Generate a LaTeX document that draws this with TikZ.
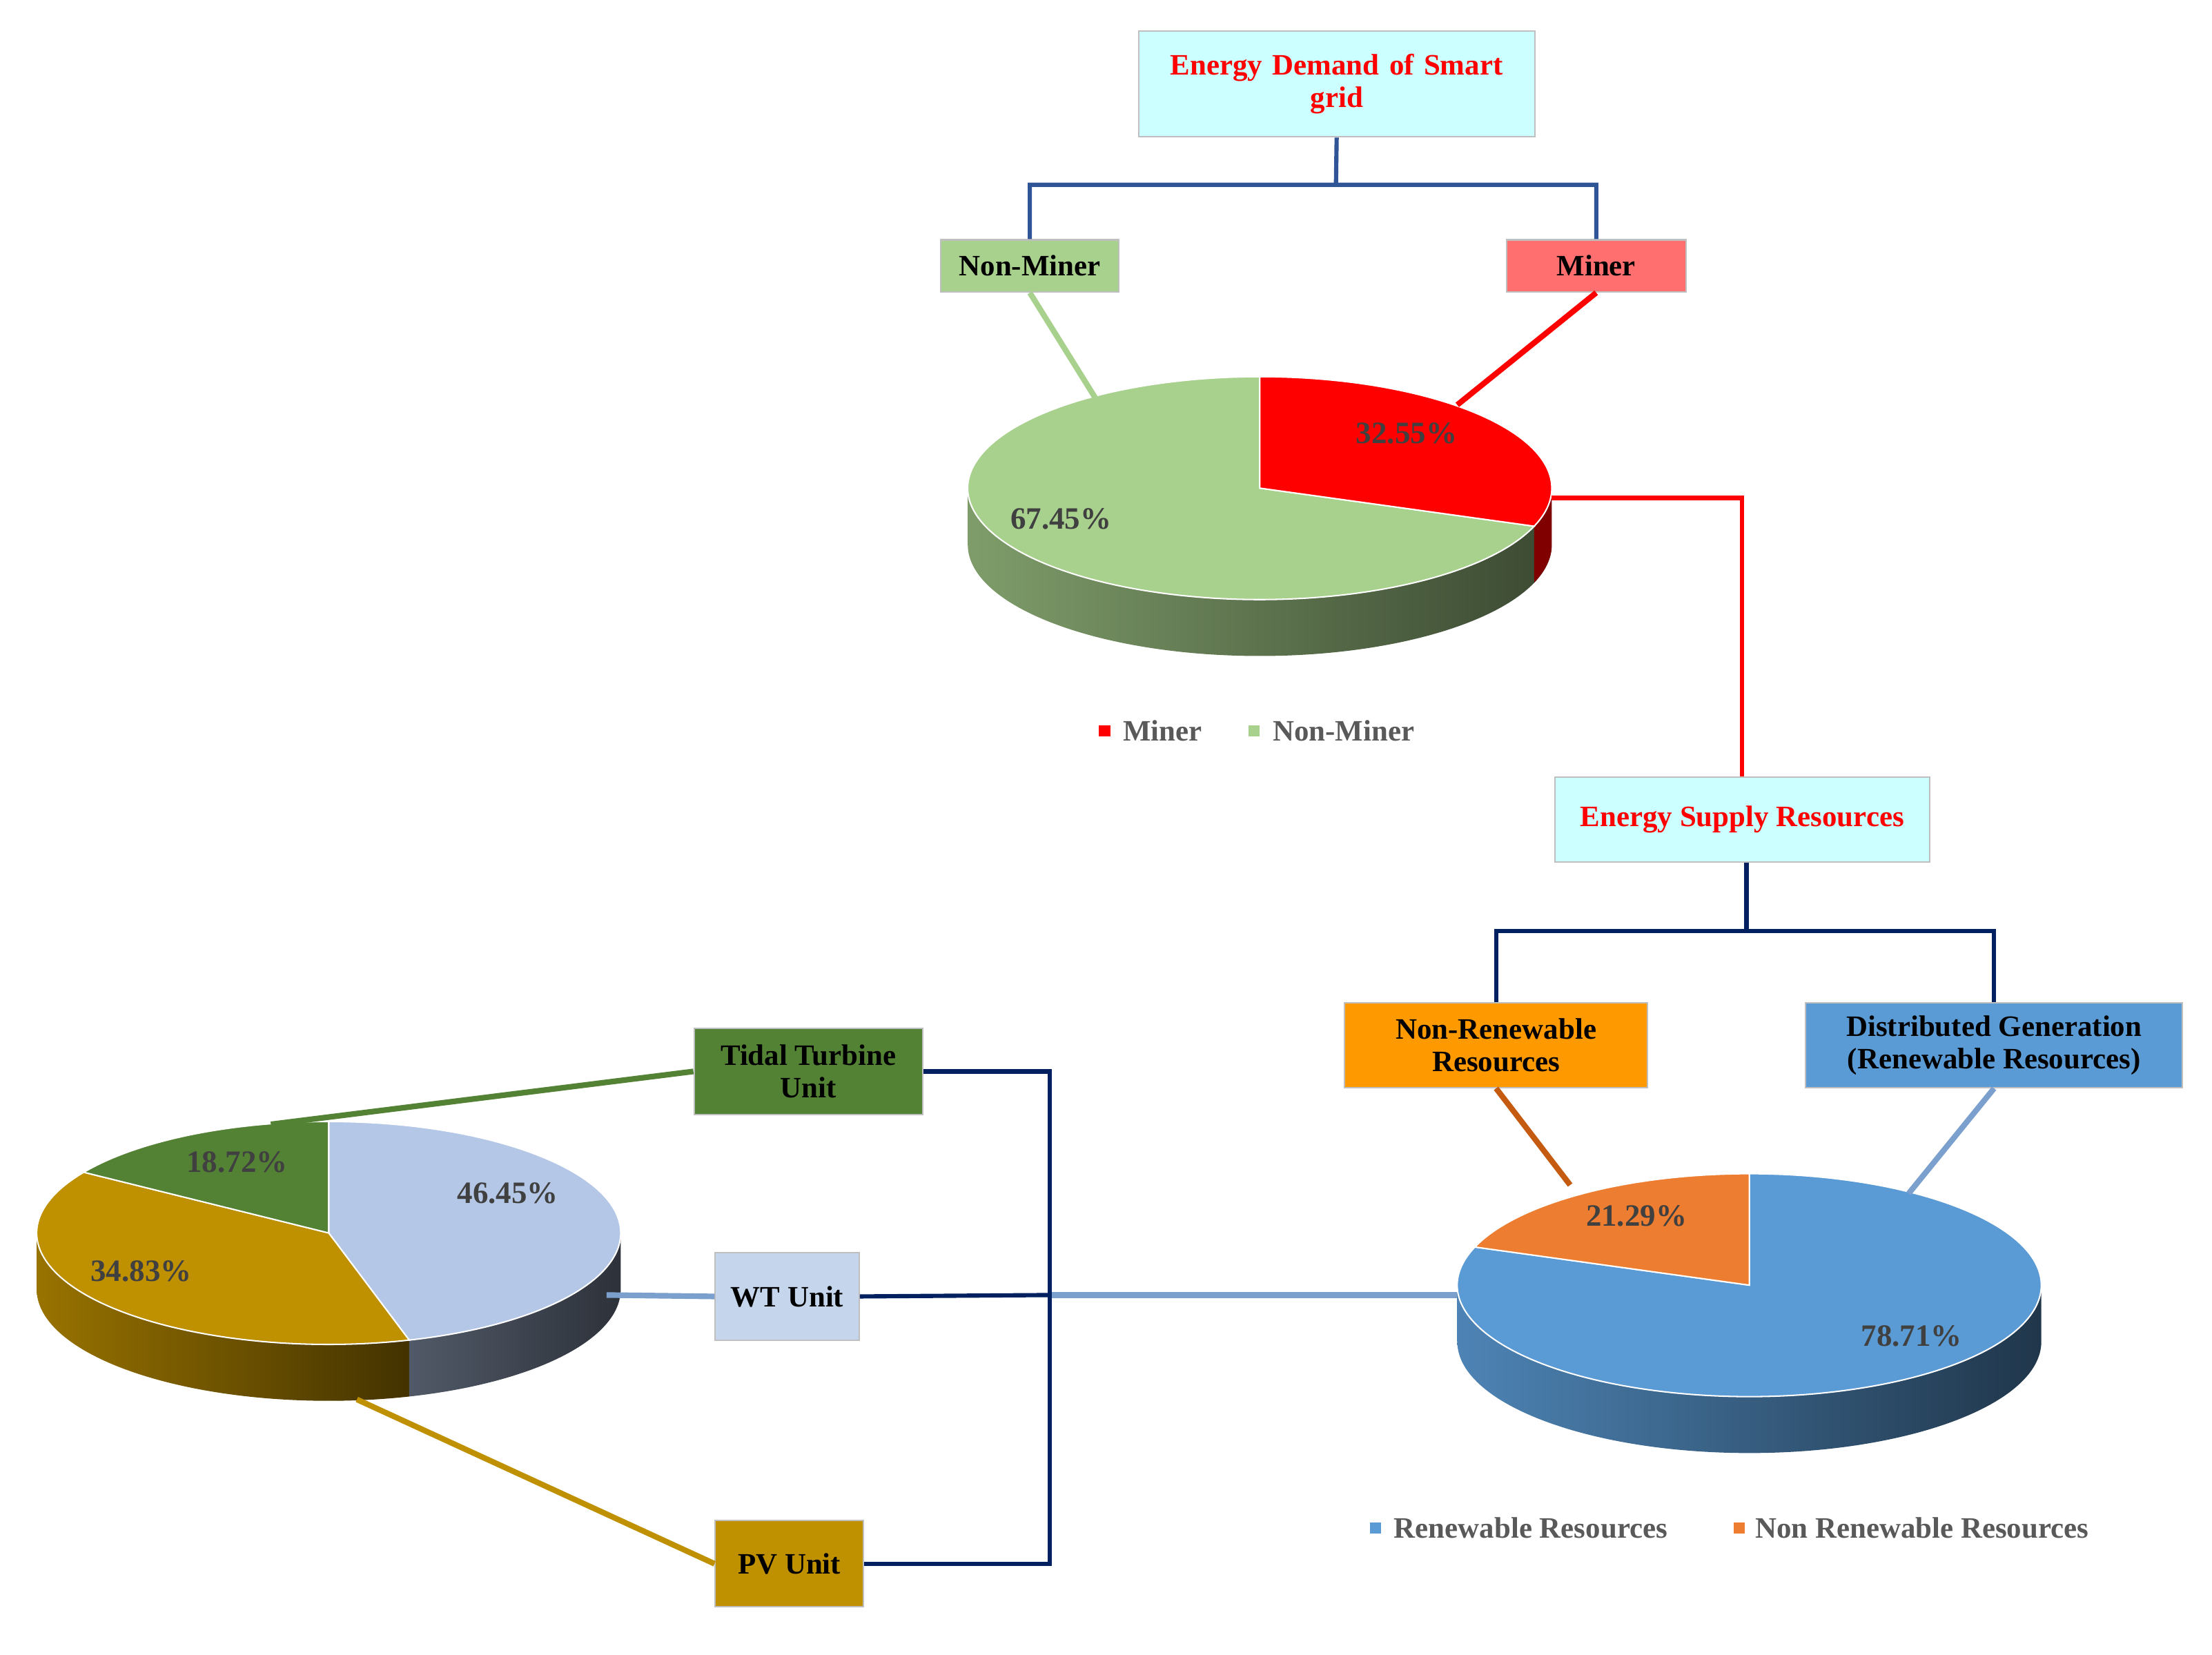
\documentclass[tikz,border=0pt]{standalone}
\usepackage{fontspec}
\setmainfont{Liberation Serif}
\usetikzlibrary{calc}
\definecolor{cyanbox}{HTML}{CCFFFF}
\definecolor{lgreen}{HTML}{A9D18E}
\definecolor{minerbox}{HTML}{FF6F6F}
\definecolor{navy}{HTML}{002060}
\definecolor{treeblue}{HTML}{2F5597}
\definecolor{nrorange}{HTML}{FF9900}
\definecolor{dgblue}{HTML}{5B9BD5}
\definecolor{tidal}{HTML}{548235}
\definecolor{wtbox}{HTML}{C5D6EC}
\definecolor{pvgold}{HTML}{BF9000}
\definecolor{lblue}{HTML}{7BA0CD}
\definecolor{dorange}{HTML}{C55A11}
\definecolor{porange}{HTML}{ED7D31}
\definecolor{pieblue}{HTML}{B4C7E7}
\definecolor{txtgray}{HTML}{404040}
\definecolor{leggray}{HTML}{595959}
\tikzset{
 box/.style={draw=black!25,line width=1pt,inner sep=0pt,align=center,font=\fontsize{21}{23}\selectfont\bfseries},
 conn/.style={line width=3pt},
 pct/.style={font=\fontsize{22}{24}\selectfont\bfseries,text=txtgray},
 leg/.style={font=\fontsize{21}{23}\selectfont\bfseries,text=leggray,anchor=west,inner sep=0pt},
}
\begin{document}
\begin{tikzpicture}[x=1pt,y=-1pt]
\useasboundingbox (0,0) rectangle (1568,1173);
% ---------- top pie
\coordinate (p1) at (893,346);
\shade[left color=lgreen!75!black,right color=lgreen!35!black] ($(p1)+(0:207 and 79)$) arc[start angle=0,end angle=180,x radius=207,y radius=79] -- ++(0,40) arc[start angle=180,end angle=0,x radius=207,y radius=79] -- cycle;
\fill[red!50!black] ($(p1)+(0:207 and 79)$) arc[start angle=0,end angle=20,x radius=207,y radius=79] -- ++(0,40) arc[start angle=20,end angle=0,x radius=207,y radius=79] -- cycle;
\fill[lgreen,draw=white,line width=1pt] (p1) -- ($(p1)+(20:207 and 79)$) arc[start angle=20,end angle=270,x radius=207,y radius=79] -- cycle;
\fill[red,draw=white,line width=1pt] (p1) -- ($(p1)+(-90:207 and 79)$) arc[start angle=-90,end angle=20,x radius=207,y radius=79] -- cycle;
\node[pct] (t1) at (997,307) {32.55\%};
\node[pct] (t2) at (752,368) {67.45\%};
% ---------- right pie
\coordinate (p2) at (1240,911);
\shade[left color=dgblue!85!black,right color=dgblue!35!black] ($(p2)+(0:207 and 79)$) arc[start angle=0,end angle=180,x radius=207,y radius=79] -- ++(0,40) arc[start angle=180,end angle=0,x radius=207,y radius=79] -- cycle;
\fill[dgblue,draw=white,line width=1pt] (p2) -- ($(p2)+(-160:207 and 79)$) arc[start angle=-160,end angle=-450,x radius=207,y radius=79] -- cycle;
\fill[porange,draw=white,line width=1pt] (p2) -- ($(p2)+(-90:207 and 79)$) arc[start angle=-90,end angle=-160,x radius=207,y radius=79] -- cycle;
\node[pct] (t3) at (1160,862) {21.29\%};
\node[pct] (t4) at (1355,947) {78.71\%};
% ---------- left pie
\coordinate (p3) at (233,874);
\shade[left color=pvgold!80!black,right color=pvgold!35!black] ($(p3)+(74:207 and 79)$) arc[start angle=74,end angle=180,x radius=207,y radius=79] -- ++(0,40) arc[start angle=180,end angle=74,x radius=207,y radius=79] -- cycle;
\shade[left color=pieblue!45!black,right color=pieblue!25!black] ($(p3)+(0:207 and 79)$) arc[start angle=0,end angle=74,x radius=207,y radius=79] -- ++(0,40) arc[start angle=74,end angle=0,x radius=207,y radius=79] -- cycle;
\fill[pieblue,draw=white,line width=1pt] (p3) -- ($(p3)+(-90:207 and 79)$) arc[start angle=-90,end angle=74,x radius=207,y radius=79] -- cycle;
\fill[pvgold,draw=white,line width=1pt] (p3) -- ($(p3)+(74:207 and 79)$) arc[start angle=74,end angle=213,x radius=207,y radius=79] -- cycle;
\fill[tidal,draw=white,line width=1pt] (p3) -- ($(p3)+(213:207 and 79)$) arc[start angle=213,end angle=270,x radius=207,y radius=79] -- cycle;
\node[pct] (t5) at (168,824) {18.72\%};
\node[pct] (t6) at (360,846) {46.45\%};
\node[pct] (t7) at (100,901) {34.83\%};
% ---------- boxes
\node[box,fill=cyanbox,text=red,minimum width=281,minimum height=75,text width=270] (ed) at (947.5,59.5) {Energy Demand of Smart\\grid};
\node[box,fill=lgreen,minimum width=126,minimum height=37] (nm) at (730,188.5) {Non-Miner};
\node[box,fill=minerbox,minimum width=127,minimum height=37] (mi) at (1131.5,188.5) {Miner};
\node[box,fill=cyanbox,text=red,minimum width=266,minimum height=60] (es) at (1235,581) {Energy Supply Resources};
\node[box,fill=nrorange,minimum width=215,minimum height=60] (nr) at (1060.5,741) {Non-Renewable\\Resources};
\node[box,fill=dgblue,minimum width=267,minimum height=60] (dg) at (1413.5,741) {Distributed Generation\\(Renewable Resources)};
\node[box,fill=tidal,minimum width=162,minimum height=61] (tt) at (573,759.5) {Tidal Turbine\\Unit};
\node[box,fill=wtbox,minimum width=102,minimum height=62] (wt) at (558,919) {WT Unit};
\node[box,fill=pvgold,minimum width=105,minimum height=61] (pv) at (559.5,1108.5) {PV Unit};
% ---------- connectors
\coordinate (j1) at (947,131);
\draw[conn,treeblue] (ed.south) -- (j1) (nm.north) |- (j1) -| (mi.north);
\coordinate (a1) at (777,283);
\coordinate (a2) at (1033,287);
\draw[line width=4pt,lgreen] (nm.south) -- (a1);
\draw[line width=4pt,red] (mi.south) -- (a2);
\coordinate (r1) at (1100,353);
\draw[conn,red] (r1) -| (es.north);
\coordinate (j2) at (1238,660);
\draw[conn,navy] (es.south -| j2) -- (j2) (nr.north) |- (j2) -| (dg.north);
\coordinate (a3) at (1113,840);
\coordinate (a4) at (1353,846);
\draw[line width=4pt,dorange] (nr.south) -- (a3);
\draw[line width=4pt,lblue] (dg.south) -- (a4);
\coordinate (a5) at (192,797);
\draw[line width=4pt,tidal] (tt.west) -- (a5);
\coordinate (a6) at (253,992);
\draw[line width=4pt,pvgold] (pv.west) -- (a6);
\coordinate (a7) at (430,918);
\draw[line width=4pt,lblue] (a7) -- (wt.west);
\coordinate (v1) at (744,918);
\coordinate (a8) at (1033,918);
\draw[line width=4pt,lblue] (v1) -- (a8);
\draw[conn,navy] (tt.east) -| (v1) |- (pv.east);
\draw[conn,navy] (wt.east) -- (v1);
% ---------- legends
\fill[red] (779,514) rectangle (787,522);
\node[leg] (l1) at (796,518) {Miner};
\fill[lgreen] (885,514) rectangle (893,522);
\node[leg] (l2) at (902,518) {Non-Miner};
\fill[dgblue] (971,1079) rectangle (979,1087);
\node[leg] (l3) at (988,1083) {Renewable Resources};
\fill[porange] (1229,1079) rectangle (1237,1087);
\node[leg] (l4) at (1244,1083) {Non Renewable Resources};
\end{tikzpicture}
\end{document}
